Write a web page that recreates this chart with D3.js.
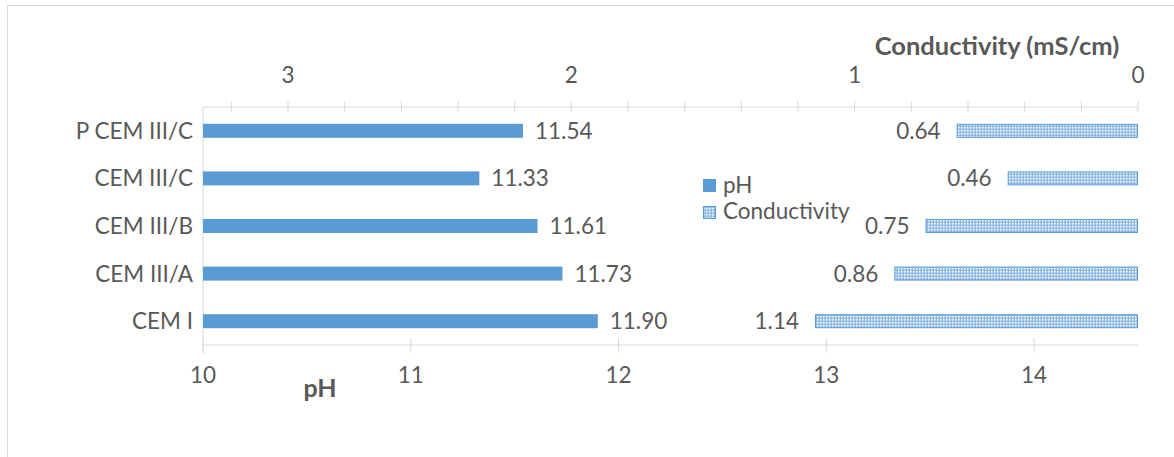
<!DOCTYPE html>
<html><head><meta charset="utf-8">
<script src="https://cdn.jsdelivr.net/npm/d3@7"></script>
<style>body{margin:0;background:#fff}svg{display:block}text{font-family:Lato,"Open Sans",sans-serif;fill:#595959}</style>
</head><body><svg id="c" width="1174" height="457"></svg>
<script>
const categories = ["P CEM III/C","CEM III/C","CEM III/B","CEM III/A","CEM I"];
const phValues = [11.54, 11.33, 11.61, 11.73, 11.90];
const condValues = [0.64, 0.46, 0.75, 0.86, 1.14];
const phTicks = [10, 11, 12, 13, 14];
const condTicks = [0, 1, 2, 3];

const svg = d3.select("#c");
const L = 203, R = 1138, T = 107, B = 345;
const axisCol = "#d9d9d9", blue = "#5b9bd5";
const FS = 22.5;

svg.append("rect").attr("x",7.5).attr("y",5.5).attr("width",1200).attr("height",500)
  .attr("fill","none").attr("stroke",axisCol);

const defs = svg.append("defs");
const pat = defs.append("pattern").attr("id","dots").attr("patternUnits","userSpaceOnUse")
  .attr("width",3).attr("height",3);
pat.append("rect").attr("width",3).attr("height",3).attr("fill","#93bce5");
pat.append("rect").attr("x",1).attr("y",1).attr("width",1.5).attr("height",1.5).attr("fill","#ffffff");

const x = d3.scaleLinear().domain([10,14.5]).range([L,R]);
const xc = d3.scaleLinear().domain([0,3.3]).range([R,L]);
const y = d3.scaleBand().domain(categories).range([T,B]).paddingInner(0).paddingOuter(0);
const bh = 14;
const cy = d => y(d) + y.bandwidth()/2;

// bottom axis
const gB = svg.append("g").attr("transform",`translate(0,${B})`);
gB.append("line").attr("x1",L).attr("x2",R).attr("stroke",axisCol);
gB.selectAll("line.t").data(phTicks).join("line").attr("class","t")
  .attr("x1",d=>x(d)).attr("x2",d=>x(d)).attr("y1",-7).attr("y2",8).attr("stroke",axisCol);
gB.selectAll("text").data(phTicks).join("text").attr("x",d=>x(d)).attr("y",38)
  .attr("text-anchor","middle").attr("font-size",FS).text(d=>d);

// top axis
const gT = svg.append("g").attr("transform",`translate(0,${T})`);
gT.append("line").attr("x1",L).attr("x2",R).attr("stroke",axisCol);
const minor = d3.range(0,3.3,0.2);
gT.selectAll("line.t").data(minor).join("line").attr("class","t")
  .attr("x1",d=>xc(d)).attr("x2",d=>xc(d)).attr("y1",-6).attr("y2",5).attr("stroke",axisCol);
gT.selectAll("text").data(condTicks).join("text").attr("x",d=>xc(d)).attr("y",-24)
  .attr("text-anchor","middle").attr("font-size",FS).text(d=>d);

// left axis
svg.append("line").attr("x1",L).attr("x2",L).attr("y1",T).attr("y2",B+8).attr("stroke",axisCol);
svg.selectAll("text.cat").data(categories).join("text").attr("class","cat")
  .attr("x",L-10).attr("y",d=>cy(d)+8).attr("text-anchor","end")
  .attr("font-size",FS).text(d=>d);

// pH bars
svg.selectAll("rect.ph").data(categories).join("rect").attr("class","ph")
  .attr("x",L).attr("y",d=>cy(d)-bh/2)
  .attr("width",(d,i)=>x(phValues[i])-L).attr("height",bh).attr("fill",blue);
svg.selectAll("text.phl").data(categories).join("text").attr("class","phl")
  .attr("x",(d,i)=>x(phValues[i])+12).attr("y",d=>cy(d)+8)
  .attr("font-size",FS).text((d,i)=>phValues[i].toFixed(2));

// conductivity bars
svg.selectAll("rect.cd").data(categories).join("rect").attr("class","cd")
  .attr("x",(d,i)=>xc(condValues[i])+0.5).attr("y",d=>cy(d)-bh/2+0.5)
  .attr("width",(d,i)=>R-xc(condValues[i])-1).attr("height",bh-1)
  .attr("fill","url(#dots)").attr("stroke",blue).attr("stroke-width",1);
svg.selectAll("text.cdl").data(categories).join("text").attr("class","cdl")
  .attr("x",(d,i)=>xc(condValues[i])-16).attr("y",d=>cy(d)+8)
  .attr("text-anchor","end").attr("font-size",FS).text((d,i)=>condValues[i].toFixed(2));

// axis titles
svg.append("text").attr("x",997).attr("y",55).attr("text-anchor","middle")
  .attr("font-size",25.5).attr("font-weight","bold").text("Conductivity (mS/cm)");
svg.append("text").attr("x",320).attr("y",397).attr("text-anchor","middle")
  .attr("font-size",25).attr("font-weight","bold").text("pH");

// legend
const lg = svg.append("g");
lg.append("rect").attr("x",703).attr("y",179).attr("width",13).attr("height",13).attr("fill",blue);
lg.append("text").attr("x",723).attr("y",193).attr("font-size",FS).text("pH");
lg.append("rect").attr("x",703.5).attr("y",206.5).attr("width",12).attr("height",12)
  .attr("fill","url(#dots)").attr("stroke",blue);
lg.append("text").attr("x",723).attr("y",219).attr("font-size",FS).text("Conductivity");
</script></body></html>
